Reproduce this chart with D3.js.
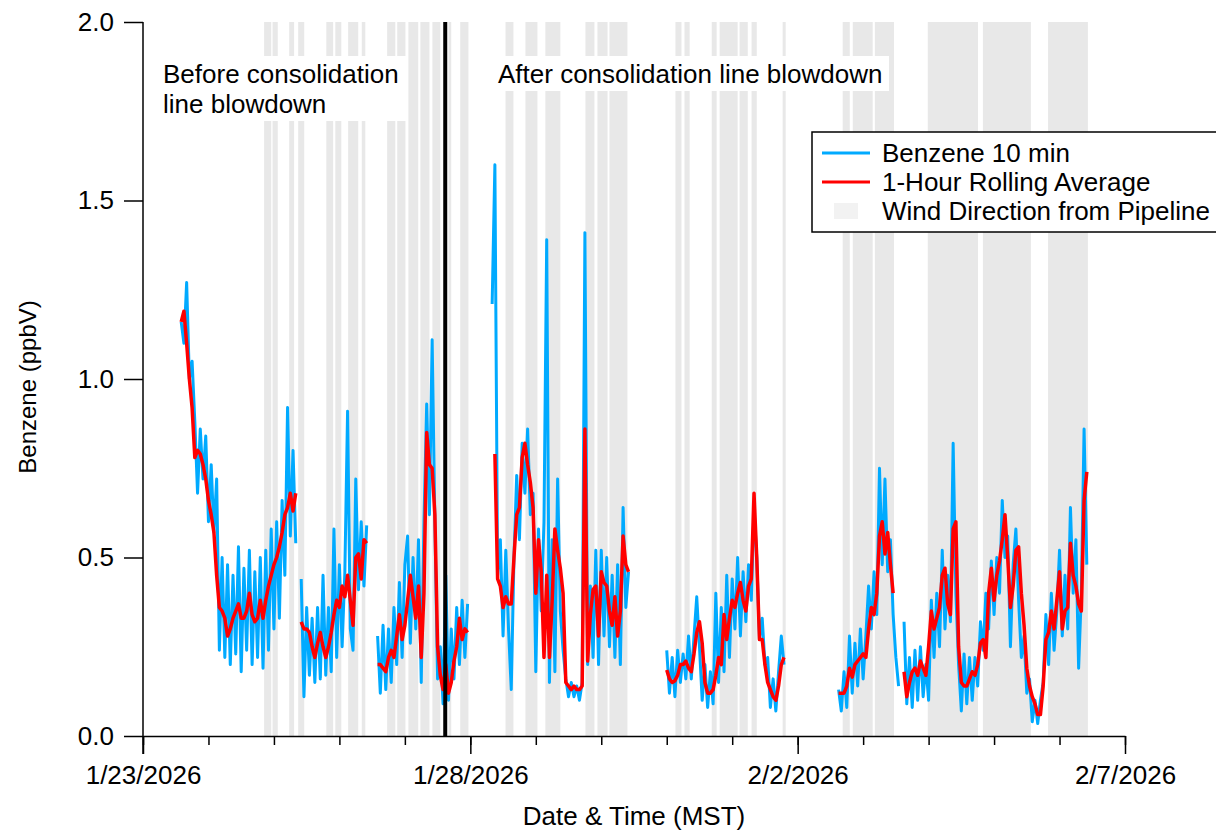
<!DOCTYPE html>
<html>
<head>
<meta charset="utf-8">
<script src="https://cdn.jsdelivr.net/npm/d3@7"></script>
<style>
  html, body { margin: 0; padding: 0; background: #fff; }
  svg { display: block; font-family: "Liberation Sans", Arial, sans-serif; }
</style>
</head>
<body>
<svg id="chart" width="1216" height="833"></svg>
<script>
// times are hours after 1/23/2026 00:00 MST, one value per hour
const startDate = Date.UTC(2026, 0, 23)
const segStartHours = [14, 58, 86, 128, 192, 255]

// Benzene 10 min (ppbV)
const blue1 = [1.16,1.10,1.27,1.00,1.05,0.88,0.68,0.86,0.72,0.84,0.60,0.76,0.57,0.72,0.24,0.50,0.22,0.48,0.20,0.45,0.23,0.53,0.18,0.47,0.24,0.52,0.20,0.46,0.22,0.50,0.19,0.52,0.24,0.58,0.30,0.60,0.33,0.66,0.45,0.92,0.56,0.80,0.54]
const blue2 = [0.44,0.11,0.36,0.17,0.33,0.15,0.36,0.16,0.45,0.17,0.36,0.18,0.58,0.22,0.48,0.25,0.46,0.91,0.30,0.24,0.72,0.41,0.60,0.42,0.59]
const blue3 = [0.28,0.12,0.31,0.13,0.30,0.15,0.36,0.20,0.43,0.22,0.48,0.56,0.26,0.50,0.30,0.55,0.15,0.60,0.93,0.62,1.11,0.60,0.16,0.25,0.09,0.45,0.10,0.30,0.16,0.36,0.20,0.38,0.22,0.37]
const blue4 = [1.21,1.60,0.45,0.55,0.28,0.52,0.30,0.13,0.50,0.73,0.55,0.82,0.68,0.86,0.62,0.68,0.18,0.58,0.35,0.60,1.39,0.15,0.55,0.18,0.72,0.35,0.24,0.16,0.11,0.15,0.11,0.14,0.10,0.15,1.41,0.20,0.42,0.22,0.52,0.20,0.52,0.28,0.50,0.25,0.45,0.22,0.48,0.20,0.64,0.36,0.46]
const blue5 = [0.24,0.12,0.22,0.11,0.24,0.15,0.23,0.16,0.28,0.16,0.28,0.39,0.25,0.10,0.20,0.08,0.18,0.09,0.40,0.15,0.36,0.18,0.45,0.22,0.44,0.30,0.50,0.28,0.46,0.32,0.48,0.38,0.64,0.50,0.27,0.33,0.20,0.22,0.08,0.16,0.07,0.18,0.28,0.20]
const blue6 = [0.13,0.07,0.18,0.08,0.28,0.12,0.26,0.14,0.30,0.16,
  0.28,0.42,0.30,0.46,0.34,0.75,0.48,0.72,0.46,0.55,
  0.34,0.22,0.14,null,0.32,0.09,0.22,0.08,0.24,0.10,
  0.25,0.11,0.20,0.10,0.38,0.22,0.40,0.25,0.52,0.30,
  0.45,0.32,0.82,0.40,0.20,0.07,0.23,0.09,0.22,0.10,
  0.22,0.14,0.32,0.24,0.40,0.30,0.49,0.34,0.50,0.40,
  0.66,0.50,0.56,0.25,0.48,0.58,0.38,0.22,0.28,0.12,
  0.16,0.04,0.10,0.035,0.10,0.15,0.34,0.20,0.40,0.24,
  0.35,0.52,0.28,0.45,0.30,0.64,0.40,0.55,0.19,0.40,
  0.86,0.48]

// 1-Hour Rolling Average (ppbV)
const red1 = [1.16,1.19,1.10,1.00,0.92,0.78,0.80,0.79,0.76,0.72,0.66,0.62,0.57,0.45,0.36,0.35,0.33,0.28,0.30,0.33,0.35,0.37,0.33,0.33,0.35,0.40,0.34,0.32,0.33,0.38,0.33,0.38,0.42,0.45,0.48,0.50,0.53,0.57,0.62,0.64,0.68,0.63,0.68]
const red2 = [0.32,0.30,0.30,0.29,0.25,0.22,0.26,0.29,0.25,0.22,0.25,0.29,0.34,0.38,0.36,0.42,0.39,0.45,0.38,0.31,0.50,0.51,0.44,0.55,0.54]
const red3 = [0.20,0.20,0.19,0.18,0.22,0.24,0.22,0.28,0.34,0.27,0.31,0.38,0.45,0.39,0.33,0.42,0.22,0.40,0.85,0.76,0.75,0.62,0.25,0.17,0.13,0.20,0.12,0.15,0.21,0.25,0.33,0.27,0.30,0.29]
const red4 = [null,0.79,0.44,0.42,0.36,0.39,0.37,0.37,0.50,0.62,0.64,0.78,0.82,0.76,0.71,0.64,0.40,0.55,0.46,0.22,0.45,0.22,0.38,0.58,0.52,0.47,0.40,0.15,0.14,0.13,0.14,0.13,0.13,0.14,0.86,0.21,0.34,0.41,0.42,0.28,0.46,0.43,0.42,0.35,0.31,0.39,0.28,0.35,0.56,0.48,0.46]
const red5 = [0.185,0.16,0.15,0.155,0.17,0.20,0.20,0.21,0.19,0.18,0.23,0.29,0.32,0.26,0.15,0.12,0.12,0.13,0.17,0.22,0.20,0.34,0.27,0.33,0.38,0.36,0.40,0.43,0.38,0.35,0.42,0.44,0.68,0.50,0.27,0.27,0.20,0.15,0.13,0.11,0.10,0.14,0.20,0.22]
const red6 = [0.12,0.12,0.12,0.14,0.19,0.165,0.20,0.21,0.22,0.23,
  0.22,0.30,0.36,0.34,0.40,0.56,0.60,0.51,0.57,0.48,
  0.40,null,null,null,0.18,0.11,0.15,0.18,0.19,0.17,
  0.21,0.19,0.17,0.25,0.35,0.30,0.33,0.36,0.45,0.47,
  0.37,0.34,0.58,0.60,0.25,0.15,0.14,0.14,0.16,0.18,
  0.17,0.20,0.26,0.27,0.22,0.40,0.47,0.38,0.45,0.49,
  0.55,0.62,0.50,0.36,0.42,0.52,0.53,0.40,0.31,0.19,
  0.14,0.11,0.09,0.06,0.06,0.14,0.27,0.29,0.35,0.30,
  0.38,0.46,0.30,0.35,0.36,0.54,0.45,0.42,0.37,0.35,
  0.66,0.74]

// wind from the pipeline direction, [start hour, end hour]
const windBands = [[44.4,47.0],[47.5,49.4],[53.6,55.4],[56.9,59.1],[67.2,69.7],[70.5,72.7],[75.2,78.9],[80.2,81.5],
  [89.5,92.5],[93.2,96.2],[97.3,100.9],[101.7,105.0],[106.1,109.0],[112.0,113.0],[116.3,119.3],
  [132.9,135.8],[140.2,144.6],[147.5,153.0],[162.2,165.5],[166.6,170.3],[171.0,177.6],
  [195.2,197.4],[198.5,200.4],[208.5,210.3],[211.4,218.0],[218.7,221.7],[223.1,225.0],[234.5,235.6],
  [256.5,259.1],[260.2,267.5],[268.3,275.3],[287.7,306.1],[307.9,325.5],[331.8,346.4]]

const blowdownHour = 110.8
const xTickDays = [0, 5, 10, 15]
const xTickLabels = ['1/23/2026', '1/28/2026', '2/2/2026', '2/7/2026']
const yTicks = [0, 0.5, 1.0, 1.5, 2.0]

const hour = h => new Date(startDate + h * 3600e3)

const svg = d3.select('#chart')
const x = d3.scaleUtc().domain([hour(0), hour(15 * 24)]).range([143, 1125])
const y = d3.scaleLinear().domain([0, 2]).range([736, 22])

const toPoints = (vals, seg) => vals.map((v, i) => ({ t: hour(segStartHours[seg] + i), v }))
const blueSegs = [blue1, blue2, blue3, blue4, blue5, blue6].map(toPoints)
const redSegs = [red1, red2, red3, red4, red5, red6].map(toPoints)

// wind direction shading
svg.append('g')
  .selectAll('rect')
  .data(windBands)
  .enter()
  .append('rect')
  .attr('x', d => x(hour(d[0])))
  .attr('width', d => x(hour(d[1])) - x(hour(d[0])))
  .attr('y', y(2))
  .attr('height', y(0) - y(2))
  .attr('fill', '#e8e8e8')

const line = d3.line()
  .defined(d => d.v != null)
  .x(d => x(d.t))
  .y(d => y(d.v))

svg.append('g')
  .selectAll('path')
  .data(blueSegs)
  .enter()
  .append('path')
  .attr('d', line)
  .attr('fill', 'none')
  .attr('stroke', '#00aaff')
  .attr('stroke-width', 3)
  .attr('stroke-linejoin', 'round')

svg.append('g')
  .selectAll('path')
  .data(redSegs)
  .enter()
  .append('path')
  .attr('d', line)
  .attr('fill', 'none')
  .attr('stroke', '#ff0000')
  .attr('stroke-width', 3.5)
  .attr('stroke-linejoin', 'round')

// blowdown marker
svg.append('line')
  .attr('x1', x(hour(blowdownHour)))
  .attr('x2', x(hour(blowdownHour)))
  .attr('y1', y(2))
  .attr('y2', y(0))
  .attr('stroke', '#000')
  .attr('stroke-width', 4)

// annotations with white boxes
const note = svg.append('g').attr('font-size', 26).attr('fill', '#000')
note.append('rect').attr('x', 155).attr('y', 56).attr('width', 253).attr('height', 65).attr('fill', '#fff')
note.append('text').attr('x', 163).attr('y', 83).text('Before consolidation')
note.append('text').attr('x', 163).attr('y', 113).text('line blowdown')
note.append('rect').attr('x', 493).attr('y', 56).attr('width', 396).attr('height', 35).attr('fill', '#fff')
note.append('text').attr('x', 498).attr('y', 83).text('After consolidation line blowdown')

// axes
const xAxis = d3.axisBottom(x)
  .tickValues(xTickDays.map(d => hour(d * 24)))
  .tickFormat((d, i) => xTickLabels[i])
  .tickSize(18)
  .tickSizeOuter(0)
  .tickPadding(12)
const xMinor = d3.axisBottom(x)
  .tickValues(d3.range(0, 16).map(d => hour(d * 24)))
  .tickFormat('')
  .tickSize(9)
  .tickSizeOuter(0)

const gxm = svg.append('g').attr('transform', `translate(0,${y(0)})`).call(xMinor)
gxm.select('.domain').remove()
const gx = svg.append('g').attr('transform', `translate(0,${y(0)})`).call(xAxis)

const gy = svg.append('g').attr('transform', 'translate(143,0)')
  .call(d3.axisLeft(y).tickValues(yTicks).tickFormat(d3.format('.1f')).tickSize(19).tickSizeOuter(0).tickPadding(10))

for (const g of [gx, gxm, gy]) {
  g.selectAll('line').attr('stroke', '#000').attr('stroke-width', 1.5)
  g.select('.domain').attr('stroke', '#000').attr('stroke-width', 1.5)
  g.selectAll('text').attr('font-size', 26).attr('font-family', '"Liberation Sans", Arial, sans-serif').attr('fill', '#000')
}
gy.select('.domain').attr('d', `M0,${y(2)}V${y(0) + 18}`)

svg.append('text')
  .attr('x', 634)
  .attr('y', 825)
  .attr('text-anchor', 'middle')
  .attr('font-size', 26)
  .text('Date & Time (MST)')

svg.append('text')
  .attr('transform', `translate(36,${(y(0) + y(2)) / 2 + 8}) rotate(-90)`)
  .attr('text-anchor', 'middle')
  .attr('font-size', 24)
  .text('Benzene (ppbV)')

// legend
const legend = svg.append('g').attr('font-size', 26)
legend.append('rect').attr('x', 812).attr('y', 132).attr('width', 420).attr('height', 100)
  .attr('fill', '#fff').attr('stroke', '#000').attr('stroke-width', 1.5)
const legendItems = [
  { label: 'Benzene 10 min', color: '#00aaff', kind: 'line' },
  { label: '1-Hour Rolling Average', color: '#ff0000', kind: 'line' },
  { label: 'Wind Direction from Pipeline', color: '#f2f2f2', kind: 'box' }
]
legendItems.forEach((d, i) => {
  const cy = 153 + i * 29
  if (d.kind === 'line') {
    legend.append('line').attr('x1', 822).attr('x2', 870).attr('y1', cy).attr('y2', cy)
      .attr('stroke', d.color).attr('stroke-width', 3)
  } else {
    legend.append('rect').attr('x', 834).attr('y', cy - 8).attr('width', 24).attr('height', 16).attr('fill', d.color)
  }
  legend.append('text').attr('x', 882).attr('y', cy + 9).text(d.label)
})
</script>
</body>
</html>
